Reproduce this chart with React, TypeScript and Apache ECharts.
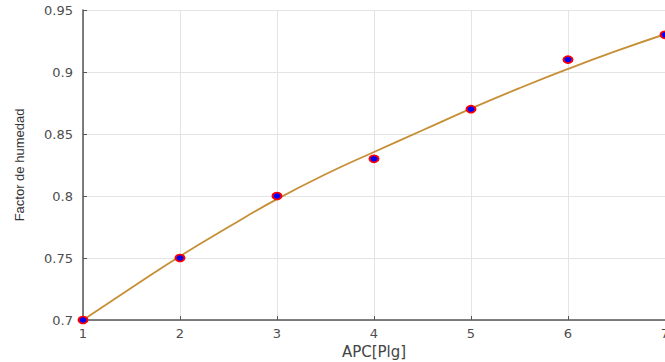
import React, { useEffect, useRef } from "react";
import * as echarts from "echarts";

const apc = [1, 2, 3, 4, 5, 6, 7];
const factorHumedad = [0.7, 0.75, 0.8, 0.83, 0.87, 0.91, 0.93];
const fitX = [1, 1.5, 2, 2.5, 3, 3.5, 4, 4.5, 5, 5.5, 6, 6.5, 7];
const fitY = [0.7, 0.726, 0.7515, 0.775, 0.7975, 0.8175, 0.8355, 0.853, 0.8705, 0.887, 0.9025, 0.917, 0.9305];
const yTicks = [0.7, 0.75, 0.8, 0.85, 0.9, 0.95];

export default function App() {
  const ref = useRef<HTMLDivElement>(null);
  useEffect(() => {
    if (!ref.current) return;
    const chart = echarts.init(ref.current, undefined, { renderer: "svg" });
    chart.setOption({
      animation: false,
      backgroundColor: "#ffffff",
      grid: { left: 83, right: 0, top: 10, bottom: 42, containLabel: false, outerBoundsMode: "none" },
      xAxis: {
        type: "value",
        min: 1,
        max: 7,
        interval: 1,
        name: "APC[Plg]",
        nameLocation: "middle",
        nameGap: 23,
        nameTextStyle: { color: "#444", fontSize: 15, fontFamily: "DejaVu Sans, sans-serif" },
        axisLine: { show: true, lineStyle: { color: "#555", width: 1.5 } },
        axisTick: { show: true, inside: true, length: 4, lineStyle: { color: "#555" } },
        axisLabel: { color: "#4d4d4d", fontSize: 13, margin: 7, fontFamily: "DejaVu Sans, sans-serif" },
        splitLine: { show: true, lineStyle: { color: "#e4e4e4", width: 1 } },
      },
      yAxis: {
        type: "value",
        min: yTicks[0],
        max: yTicks[yTicks.length - 1],
        interval: 0.05,
        name: "Factor de humedad",
        nameLocation: "middle",
        nameGap: 57,
        nameTextStyle: { color: "#333", fontSize: 13, fontFamily: "Liberation Sans, Arial, sans-serif" },
        axisLine: { show: true, lineStyle: { color: "#555", width: 1.5 } },
        axisTick: { show: true, inside: true, length: 4, lineStyle: { color: "#555" } },
        axisLabel: {
          color: "#4d4d4d",
          fontSize: 13,
          margin: 10,
          fontFamily: "DejaVu Sans, sans-serif",
          formatter: (v: number) => String(+v.toFixed(2)),
        },
        splitLine: { show: true, lineStyle: { color: "#e4e4e4", width: 1 } },
      },
      series: [
        {
          type: "line",
          data: fitX.map((x, i) => [x, fitY[i]]),
          smooth: true,
          showSymbol: false,
          symbol: "none",
          lineStyle: { color: "#c68f35", width: 1.8 },
          z: 2,
        },
        {
          type: "scatter",
          data: apc.map((x, i) => [x, factorHumedad[i]]),
          symbol: "circle",
          symbolSize: [9, 7],
          itemStyle: { color: "#0000ff", borderColor: "#ff0000", borderWidth: 1.8, opacity: 1 },
          z: 3,
          clip: false,
        },
      ],
    });
    return () => chart.dispose();
  }, []);
  return (
    <div
      ref={ref}
      style={{ position: "fixed", left: 0, top: 0, width: 665, height: 362 }}
    />
  );
}
